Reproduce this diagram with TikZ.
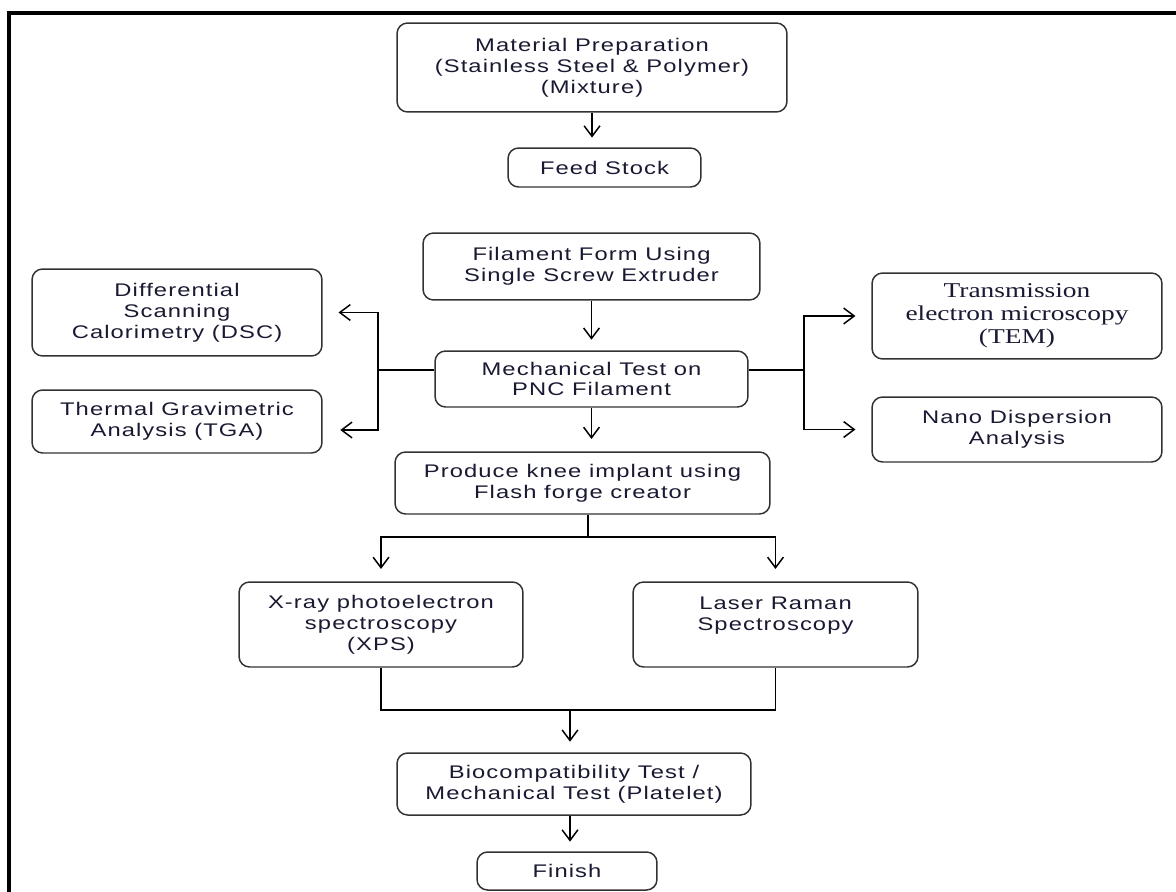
\documentclass[tikz,border=0pt]{standalone}
\usepackage{fontspec}
\setmainfont{Liberation Sans}[FakeStretch=1.3, LetterSpace=6]
\newfontfamily\temfont{Liberation Serif}[FakeStretch=1.3]
\usetikzlibrary{arrows.meta}
\definecolor{ink}{RGB}{25, 25, 50}
\definecolor{edge}{RGB}{50, 50, 50}

\begin{document}
\begin{tikzpicture}[x=0.02cm, y=-0.02cm,
box/.style={draw=edge, line width=0.85pt, rounded corners=6pt, align=center,
  inner sep=0pt, text=ink, font=\fontsize{10.4}{11.9}\selectfont},
sz/.style 2 args={minimum width=#1cm, minimum height=#2cm},
arr/.style={-{Straight Barb[length=6pt, width=9pt]}, line width=0.85pt},
wire/.style={line width=0.85pt}
]
  \useasboundingbox (0, 0) rectangle (1176, 892);
  \clip (0, 0) rectangle (1176, 892);
  \draw[line width=2pt] (9, 13) rectangle (1200, 920);

  \node[box, sz={7.8}{1.78}] (prep) at (592, 67.5)
    {Material Preparation\\(Stainless Steel \& Polymer)\\(Mixture)};
  \node[box, sz={3.86}{0.78}] (feed) at (604.5, 167.5) {Feed Stock};
  \node[box, sz={6.74}{1.34}] (filament) at (591.5, 266.5)
    {Filament Form Using\\Single Screw Extruder};
  \node[box, sz={6.26}{1.12}] (mech) at (591.5, 379)
    {Mechanical Test on\\PNC Filament};
  \node[box, sz={5.8}{1.74}] (dsc) at (177, 312.5)
    {Differential\\Scanning\\Calorimetry (DSC)};
  \node[box, sz={5.8}{1.26}] (tga) at (177, 421.5)
    {Thermal Gravimetric\\Analysis (TGA)};
  \node[box, sz={5.8}{1.72}, font=\temfont\fontsize{12}{13}\selectfont] (tem) at (1017, 316)
    {Transmission\\electron microscopy\\(TEM)};
  \node[box, sz={5.8}{1.3}] (nano) at (1017, 429.5)
    {Nano Dispersion\\Analysis};
  \node[box, sz={7.5}{1.24}] (knee) at (582.5, 483)
    {Produce knee implant using\\Flash forge creator};
  \node[box, sz={5.68}{1.7}] (xps) at (381, 624.5)
    {X-ray photoelectron\\spectroscopy\\(XPS)};
  \node[box, sz={5.7}{1.7}] (raman) at (775.5, 624.5)
    {Laser Raman\\Spectroscopy\\\mbox{}};
  \node[box, sz={7.08}{1.24}] (bio) at (574, 784)
    {Biocompatibility Test /\\Mechanical Test (Platelet)};
  \node[box, sz={3.6}{0.76}] (finish) at (567, 871) {Finish};

  \coordinate (lbus) at (378, 370);
  \coordinate (rbus) at (804, 370);
  \coordinate (kbus) at (588, 537);
  \coordinate (mbus) at (570, 710);

  \draw[arr, shorten >=5.5pt] (prep.south) -- (prep.south |- feed.north);
  \draw[arr, shorten >=6pt] (filament.south) -- (mech.north);
  \draw[arr, shorten >=7pt] (mech.south) -- (mech.south |- knee.north);

  \draw[wire] (mech.west |- lbus) -- (lbus);
  \draw[arr, shorten >=9pt] (lbus) |- (dsc.east);
  \draw[arr, shorten >=10pt] (lbus) |- ([yshift=-0.17cm]tga.east);
  \draw[wire] (mech.east |- rbus) -- (rbus);
  \draw[arr, shorten >=9pt] (rbus) |- (tem.west);
  \draw[arr, shorten >=9pt] (rbus) |- (nano.west);

  \draw[wire] (knee.south -| kbus) -- (kbus);
  \draw[arr, shorten >=7pt] (kbus) -| (xps.north);
  \draw[arr, shorten >=7pt] (kbus) -| (raman.north);

  \draw[wire] (xps.south) |- (mbus) -| (raman.south);
  \draw[arr, shorten >=6pt] (mbus) -- (mbus |- bio.north);
  \draw[arr, shorten >=5.5pt] (mbus |- bio.south) -- (mbus |- finish.north);
\end{tikzpicture}
\end{document}
